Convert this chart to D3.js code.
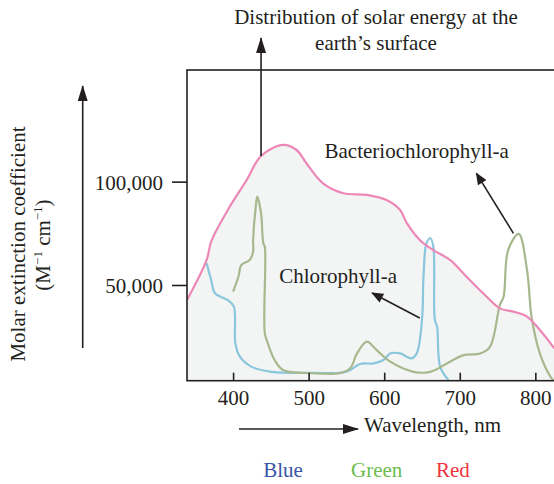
<!DOCTYPE html>
<html>
<head>
<meta charset="utf-8">
<script src="https://cdn.jsdelivr.net/npm/d3@7"></script>
<style>
  body { margin: 0; background: #fff; }
  svg text { font-family: "Liberation Serif", "Times New Roman", serif; fill: #231f20; }
</style>
</head>
<body>
<div id="chart"></div>
<script>
// Solar energy distribution at earth's surface (pink)
const solarNm  = [339, 365, 371, 393, 418, 437, 466, 484, 497, 519, 546, 577, 603, 621, 630, 647, 665, 687, 709, 731, 753, 771, 789, 806, 825];
const solarVal = [42700, 62100, 71000, 86300, 100800, 112400, 117800, 115300, 108900, 99200, 94400, 93600, 91100, 86300, 79900, 71800, 66900, 62100, 54000, 46000, 38700, 37100, 34700, 28200, 19400];

// Chlorophyll-a (blue)
const chlNm  = [365, 371, 376, 393, 401, 403, 409, 424, 451, 506, 550, 568, 586, 599, 608, 621, 636, 643, 650, 652, 656, 661, 665, 667, 670, 674, 685];
const chlVal = [60500, 52400, 46000, 42700, 39500, 21800, 15300, 10500, 8000, 7500, 8000, 11800, 12100, 13700, 16900, 16900, 14500, 16900, 33100, 54000, 70200, 72600, 68500, 33100, 29800, 10500, 4000];

// Bacteriochlorophyll-a (green)
const bchlNm  = [400, 407, 411, 422, 426.5, 426.5, 430, 432, 437, 440, 442, 442, 446, 455, 466, 506, 541, 555, 564, 577, 590, 608, 639, 661, 687, 705, 727, 740, 753, 758, 764, 778, 789, 795, 806, 820, 825];
const bchlVal = [46800, 54000, 59700, 62100, 66100, 71800, 87900, 92700, 84700, 70200, 68500, 26600, 21800, 13700, 8900, 7300, 7300, 9700, 16900, 22600, 18500, 12900, 8000, 8000, 12900, 16100, 16900, 20100, 40300, 44300, 66900, 74700, 57300, 34700, 16900, 5600, 3500];

const xTicks = [400, 500, 600, 700, 800];
const yTicks = [50000, 100000];

const legendLabels = ['Blue', 'Green', 'Red'];
const legendNm = [466, 590, 691];
const legendColors = ['#3a55a5', '#6cbd4f', '#f0333b'];

const width = 554, height = 484;
const plot = {left: 187, top: 70, right: 558, bottom: 380.7};

const svg = d3.select('#chart').append('svg')
    .attr('width', width)
    .attr('height', height);

const xScale = d3.scaleLinear()
    .domain([339, 830])
    .range([plot.left, plot.right]);

const yScale = d3.scaleLinear()
    .domain([3700, 154000])
    .range([plot.bottom, plot.top]);

// arrowheads
const defs = svg.append('defs');
defs.append('marker')
    .attr('id', 'head')
    .attr('viewBox', '0 0 12 10')
    .attr('refX', 11).attr('refY', 5)
    .attr('markerUnits', 'userSpaceOnUse')
    .attr('markerWidth', 13).attr('markerHeight', 10)
    .attr('orient', 'auto')
    .append('path')
    .attr('d', 'M0,0 L12,5 L0,10 Z')
    .attr('fill', '#231f20');

defs.append('marker')
    .attr('id', 'bighead')
    .attr('viewBox', '0 0 16 10')
    .attr('refX', 15).attr('refY', 5)
    .attr('markerUnits', 'userSpaceOnUse')
    .attr('markerWidth', 17).attr('markerHeight', 10)
    .attr('orient', 'auto')
    .append('path')
    .attr('d', 'M0,0 L16,5 L0,10 Z')
    .attr('fill', '#231f20');

defs.append('clipPath')
    .attr('id', 'plotClip')
    .append('rect')
    .attr('x', plot.left)
    .attr('y', plot.top)
    .attr('width', plot.right - plot.left)
    .attr('height', plot.bottom - plot.top);

const toPoints = (xs, ys) => xs.map((x, i) => ({nm: x, v: ys[i]}));
const solar = toPoints(solarNm, solarVal);
const chl = toPoints(chlNm, chlVal);
const bchl = toPoints(bchlNm, bchlVal);

const line = d3.line()
    .x(d => xScale(d.nm))
    .y(d => yScale(d.v))
    .curve(d3.curveCatmullRom.alpha(0.5));

const area = d3.area()
    .x(d => xScale(d.nm))
    .y0(plot.bottom)
    .y1(d => yScale(d.v))
    .curve(d3.curveCatmullRom.alpha(0.5));

const marks = svg.append('g').attr('clip-path', 'url(#plotClip)');

marks.append('path')
    .datum(solar)
    .attr('d', area)
    .attr('fill', '#f3f5f5');

marks.append('path')
    .datum(chl)
    .attr('d', line)
    .attr('fill', 'none')
    .attr('stroke', '#8ac6dc')
    .attr('stroke-width', 2.2);

marks.append('path')
    .datum(bchl)
    .attr('d', line)
    .attr('fill', 'none')
    .attr('stroke', '#a7b98c')
    .attr('stroke-width', 2.2);

marks.append('path')
    .datum(solar)
    .attr('d', line)
    .attr('fill', 'none')
    .attr('stroke', '#ec87b7')
    .attr('stroke-width', 2.2);

// frame (right side runs off the page)
svg.append('rect')
    .attr('x', plot.left)
    .attr('y', plot.top)
    .attr('width', plot.right - plot.left + 20)
    .attr('height', plot.bottom - plot.top)
    .attr('fill', 'none')
    .attr('stroke', '#231f20')
    .attr('stroke-width', 1.6);

// axes
const xAxis = d3.axisBottom(xScale)
    .tickValues(xTicks)
    .tickSizeInner(-8)
    .tickSizeOuter(0)
    .tickPadding(9);

const yAxis = d3.axisLeft(yScale)
    .tickValues(yTicks)
    .tickFormat(d3.format(','))
    .tickSizeInner(15)
    .tickSizeOuter(0)
    .tickPadding(9);

const xAxisG = svg.append('g')
    .attr('transform', `translate(0,${plot.bottom})`)
    .call(xAxis);

const yAxisG = svg.append('g')
    .attr('transform', `translate(${plot.left},0)`)
    .call(yAxis);

[xAxisG, yAxisG].forEach(g => {
    g.select('.domain').remove();
    g.attr('font-family', null).attr('font-size', null);
    g.selectAll('line').attr('stroke', '#231f20').attr('stroke-width', 1.6);
    g.selectAll('text').style('font-size', '21px').attr('fill', '#231f20');
});
yAxisG.selectAll('text').attr('dy', '0.36em');

// annotation arrows
const arrow = (x1, y1, x2, y2, head) => svg.append('line')
    .attr('x1', x1).attr('y1', y1)
    .attr('x2', x2).attr('y2', y2)
    .attr('stroke', '#231f20')
    .attr('stroke-width', 1.6)
    .attr('marker-end', `url(#${head})`);

arrow(xScale(437), yScale(112400), xScale(437), yScale(169500), 'bighead');
arrow(xScale(647), yScale(34000), xScale(584), yScale(46100), 'head');
arrow(xScale(771), yScale(75000), xScale(722), yScale(104000), 'head');

// y and x direction arrows
arrow(82.7, 348, 82.7, 86, 'bighead');
arrow(239, 429, 358, 429, 'bighead');

// title
const title = svg.append('text')
    .attr('text-anchor', 'middle')
    .style('font-size', '21px');
title.append('tspan').attr('x', 376).attr('y', 24).text('Distribution of solar energy at the');
title.append('tspan').attr('x', 376).attr('y', 50).text('earth\u2019s surface');

// curve labels
svg.append('text')
    .attr('x', xScale(521))
    .attr('y', yScale(111500))
    .style('font-size', '21px')
    .text('Bacteriochlorophyll-a');

svg.append('text')
    .attr('x', xScale(461))
    .attr('y', yScale(51000))
    .style('font-size', '21px')
    .text('Chlorophyll-a');

// x axis title
svg.append('text')
    .attr('x', 364)
    .attr('y', 432)
    .style('font-size', '21px')
    .text('Wavelength, nm');

// y axis title
const yTitle = svg.append('text')
    .attr('transform', 'translate(25,244) rotate(-90)')
    .attr('text-anchor', 'middle')
    .style('font-size', '21px')
    .text('Molar extinction coefficient');

const yUnit = svg.append('text')
    .attr('transform', 'translate(50,245) rotate(-90)')
    .attr('text-anchor', 'middle')
    .style('font-size', '21px');
yUnit.append('tspan').text('(M');
yUnit.append('tspan').attr('dy', -8).style('font-size', '13px').text('\u22121');
yUnit.append('tspan').attr('dy', 8).text(' cm');
yUnit.append('tspan').attr('dy', -8).style('font-size', '13px').text('\u22121');
yUnit.append('tspan').attr('dy', 8).text(')');

// colour band names
svg.append('g')
    .selectAll('text')
    .data(legendLabels)
    .join('text')
    .attr('x', (d, i) => xScale(legendNm[i]))
    .attr('y', 476.5)
    .attr('text-anchor', 'middle')
    .style('font-size', '21px')
    .style('fill', (d, i) => legendColors[i])
    .text(d => d);
</script>
</body>
</html>
